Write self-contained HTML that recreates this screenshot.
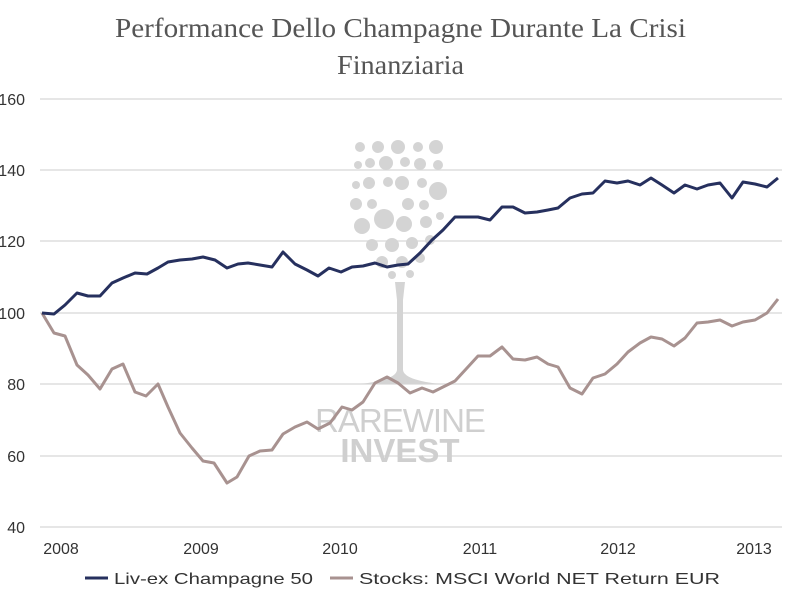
<!DOCTYPE html>
<html><head><meta charset="utf-8"><style>
body{margin:0;background:#fff;width:800px;height:600px;overflow:hidden}
svg text{font-family:"Liberation Sans",sans-serif}
</style></head><body>
<svg width="800" height="600" viewBox="0 0 800 600">
<text x="115" y="37" textLength="571" lengthAdjust="spacingAndGlyphs" style="font-family:'Liberation Serif',serif;font-size:27px;fill:#555">Performance Dello Champagne Durante La Crisi</text>
<text x="337" y="74" textLength="127" lengthAdjust="spacingAndGlyphs" style="font-family:'Liberation Serif',serif;font-size:27px;fill:#555">Finanziaria</text>
<g stroke="#dedede" stroke-width="1.5">
<line x1="40" x2="782" y1="99" y2="99"/><line x1="40" x2="782" y1="170" y2="170"/><line x1="40" x2="782" y1="241" y2="241"/><line x1="40" x2="782" y1="313" y2="313"/><line x1="40" x2="782" y1="384" y2="384"/><line x1="40" x2="782" y1="456" y2="456"/><line x1="40" x2="782" y1="527" y2="527"/>
</g>
<g font-size="16" fill="#333" text-anchor="end">
<text x="25" y="105">160</text><text x="25" y="176">140</text><text x="25" y="247">120</text><text x="25" y="319">100</text><text x="25" y="390">80</text><text x="25" y="462">60</text><text x="25" y="533">40</text>
</g>
<g font-size="16" fill="#333" text-anchor="middle">
<text x="61" y="554">2008</text><text x="201" y="554">2009</text><text x="340" y="554">2010</text><text x="480" y="554">2011</text><text x="618" y="554">2012</text><text x="754" y="554">2013</text>
</g>
<g fill="#d4d4d4">
<circle cx="360" cy="147" r="5"/><circle cx="378" cy="147" r="6"/><circle cx="398" cy="147" r="7"/><circle cx="418" cy="147" r="5"/><circle cx="436" cy="147" r="7"/>
<circle cx="358" cy="165" r="4"/><circle cx="370" cy="163" r="5"/><circle cx="386" cy="163" r="7"/><circle cx="405" cy="162" r="5"/><circle cx="420" cy="164" r="6"/><circle cx="438" cy="165" r="5"/>
<circle cx="356" cy="185" r="4"/><circle cx="369" cy="183" r="6"/><circle cx="388" cy="182" r="5"/><circle cx="402" cy="183" r="7"/><circle cx="422" cy="183" r="5"/><circle cx="438" cy="191" r="9"/>
<circle cx="356" cy="204" r="6"/><circle cx="372" cy="204" r="5"/><circle cx="384" cy="219" r="10"/><circle cx="408" cy="204" r="6"/><circle cx="424" cy="205" r="5"/>
<circle cx="362" cy="226" r="8"/><circle cx="404" cy="224" r="8"/><circle cx="426" cy="222" r="6"/><circle cx="440" cy="216" r="4"/>
<circle cx="372" cy="245" r="6"/><circle cx="392" cy="245" r="7"/><circle cx="412" cy="243" r="6"/><circle cx="430" cy="240" r="5"/>
<circle cx="382" cy="262" r="6"/><circle cx="402" cy="262" r="6"/><circle cx="420" cy="258" r="5"/><circle cx="392" cy="275" r="4"/><circle cx="410" cy="274" r="4"/>
<path d="M395 282 L405 282 L403 300 L403 370 Q404 380 440 384 L360 384 Q396 380 397 370 L397 300 Z"/>
</g>
<text x="400" y="432" text-anchor="middle" font-size="33" fill="#cfcfcf" style="letter-spacing:-1px">RAREWINE</text>
<text x="400" y="462" text-anchor="middle" font-size="33" font-weight="bold" fill="#cfcfcf">INVEST</text>
<polyline fill="none" stroke="#a89290" stroke-width="3" stroke-linejoin="round" points="42,313 54,333 65,336 77,365 88,375 100,389 112,369 123,364 135,392 146,396 158,384 168,407 180,433 192,448 203,461 214,463 227,483 237,477 249,456 260,451 272,450 283,434 295,427 307,422 318,429 330,423 342,407 352,410 363,402 375,383 387,377 398,383 410,393 422,388 433,392 445,386 455,381 467,368 478,356 490,356 502,347 513,359 525,360 537,357 548,364 558,367 570,388 582,394 593,378 605,374 617,364 628,352 640,343 651,337 662,339 674,346 685,338 697,323 708,322 720,320 732,326 743,322 755,320 767,313 778,299"/>
<polyline fill="none" stroke="#26305e" stroke-width="3" stroke-linejoin="round" points="42,313 54,314 65,305 77,293 88,296 100,296 112,283 123,278 135,273 147,274 158,268 168,262 180,260 192,259 203,257 215,260 227,268 238,264 248,263 260,265 272,267 283,252 295,264 307,270 318,276 329,268 341,272 352,267 363,266 375,263 387,267 398,265 408,264 420,253 432,240 443,230 455,217 467,217 478,217 490,220 502,207 513,207 525,213 537,212 548,210 558,208 570,198 582,194 593,193 605,181 617,183 628,181 640,185 651,178 662,185 674,193 685,185 697,189 708,185 720,183 732,198 743,182 755,184 767,187 778,178"/>
<line x1="85" x2="108" y1="578" y2="578" stroke="#26305e" stroke-width="3"/>
<text x="114" y="584" font-size="16" fill="#333" textLength="199" lengthAdjust="spacingAndGlyphs">Liv-ex Champagne 50</text>
<line x1="330" x2="353" y1="578" y2="578" stroke="#a89290" stroke-width="3"/>
<text x="359" y="584" font-size="16" fill="#333" textLength="361" lengthAdjust="spacingAndGlyphs">Stocks: MSCI World NET Return EUR</text>
</svg>
</body></html>
